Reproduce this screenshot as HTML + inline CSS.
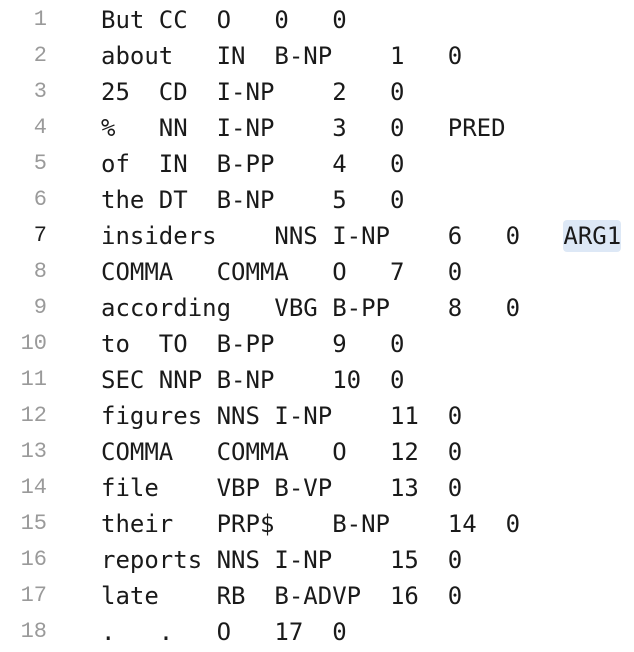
<!DOCTYPE html>
<html><head><meta charset="utf-8"><style>
html,body{margin:0;padding:0;background:#fff;width:634px;height:652px;overflow:hidden}
.wrap{position:absolute;top:2px;left:0;width:634px}
.ln{position:absolute;left:0;width:47px;text-align:right;font:22px/36px "Liberation Mono","DejaVu Sans Mono",monospace;color:#9a9a9a}
.ln.cur{color:#1e1e1e}
pre{position:absolute;left:101px;top:0;margin:0;font:24px/36px "DejaVu Sans Mono","Liberation Mono",monospace;color:#1a1a1a;tab-size:4;-moz-tab-size:4}
.hl{background:#dde8f6;border-radius:4px;padding:2px 0}
</style></head><body><div class="wrap">
<div class="ln" style="top:0">1</div>
<div class="ln" style="top:36px">2</div>
<div class="ln" style="top:72px">3</div>
<div class="ln" style="top:108px">4</div>
<div class="ln" style="top:144px">5</div>
<div class="ln" style="top:180px">6</div>
<div class="ln cur" style="top:216px">7</div>
<div class="ln" style="top:252px">8</div>
<div class="ln" style="top:288px">9</div>
<div class="ln" style="top:324px">10</div>
<div class="ln" style="top:360px">11</div>
<div class="ln" style="top:396px">12</div>
<div class="ln" style="top:432px">13</div>
<div class="ln" style="top:468px">14</div>
<div class="ln" style="top:504px">15</div>
<div class="ln" style="top:540px">16</div>
<div class="ln" style="top:576px">17</div>
<div class="ln" style="top:612px">18</div>
<pre>But	CC	O	0	0
about	IN	B-NP	1	0
25	CD	I-NP	2	0
%	NN	I-NP	3	0	PRED
of	IN	B-PP	4	0
the	DT	B-NP	5	0
insiders	NNS	I-NP	6	0	<span class="hl">ARG1</span>
COMMA	COMMA	O	7	0
according	VBG	B-PP	8	0
to	TO	B-PP	9	0
SEC	NNP	B-NP	10	0
figures	NNS	I-NP	11	0
COMMA	COMMA	O	12	0
file	VBP	B-VP	13	0
their	PRP$	B-NP	14	0
reports	NNS	I-NP	15	0
late	RB	B-ADVP	16	0
.	.	O	17	0</pre>
</div></body></html>
